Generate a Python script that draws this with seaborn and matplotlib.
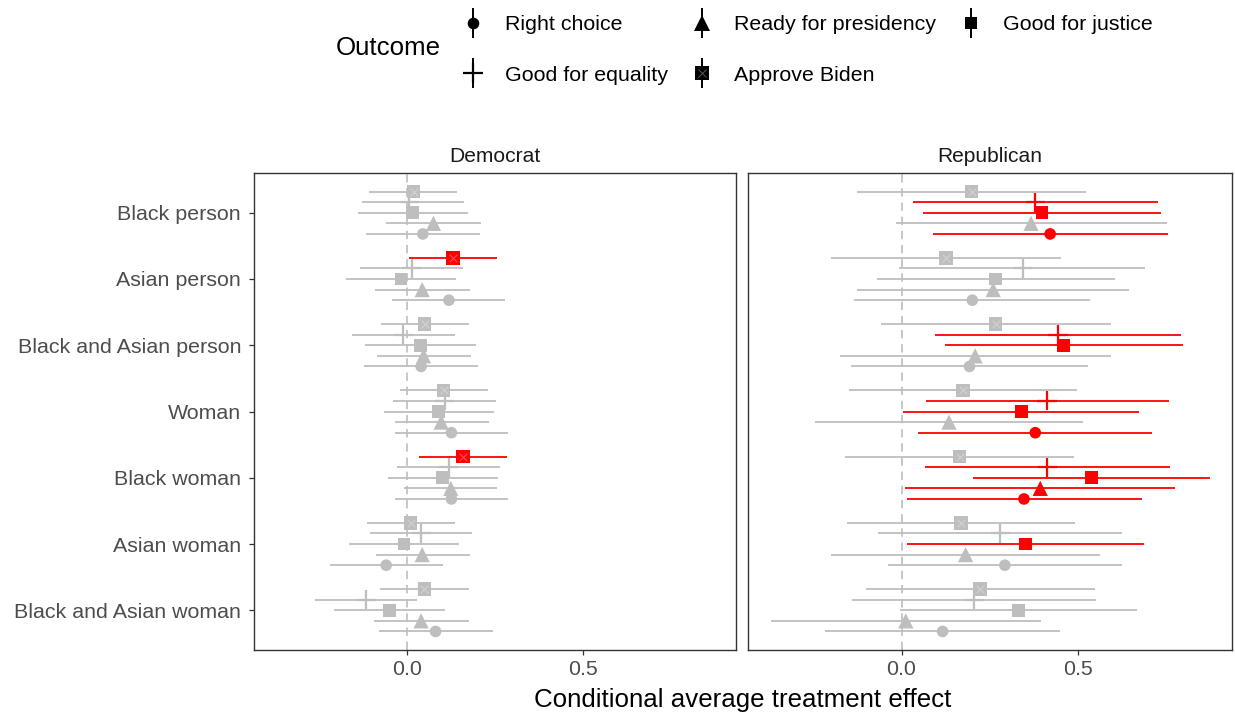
import numpy as np
import pandas as pd
import matplotlib
matplotlib.use("Agg")
import matplotlib.pyplot as plt
import seaborn as sns
from matplotlib.lines import Line2D

# ---------------- data ----------------
categories = ["Black person", "Asian person", "Black and Asian person", "Woman",
              "Black woman", "Asian woman", "Black and Asian woman"]
outcomes = ["Right choice", "Ready for presidency", "Good for justice",
            "Good for equality", "Approve Biden"]
parties = ["Democrat", "Republican"]

# rows = categories, columns = outcomes (order as in `outcomes`)
dem_est = [[0.046, 0.076, 0.017, 0.008, 0.020],
           [0.120, 0.044, -0.016, 0.015, 0.131],
           [0.041, 0.048, 0.040, -0.010, 0.051],
           [0.127, 0.098, 0.091, 0.108, 0.105],
           [0.127, 0.125, 0.102, 0.119, 0.160],
           [-0.058, 0.044, -0.008, 0.042, 0.011],
           [0.082, 0.041, -0.048, -0.115, 0.050]]
dem_lo = [[-0.114, -0.058, -0.139, -0.128, -0.106],
          [-0.041, -0.089, -0.173, -0.131, 0.007],
          [-0.120, -0.084, -0.117, -0.156, -0.074],
          [-0.033, -0.033, -0.063, -0.039, -0.020],
          [-0.033, -0.007, -0.054, -0.026, 0.035],
          [-0.218, -0.088, -0.163, -0.105, -0.113],
          [-0.079, -0.092, -0.205, -0.261, -0.075]]
dem_hi = [[0.208, 0.210, 0.174, 0.163, 0.144],
          [0.280, 0.180, 0.141, 0.159, 0.257],
          [0.203, 0.182, 0.197, 0.137, 0.177],
          [0.288, 0.234, 0.248, 0.253, 0.231],
          [0.288, 0.257, 0.260, 0.265, 0.285],
          [0.104, 0.180, 0.149, 0.186, 0.137],
          [0.244, 0.177, 0.108, 0.030, 0.177]]

rep_est = [[0.420, 0.366, 0.397, 0.378, 0.198],
           [0.200, 0.259, 0.265, 0.342, 0.125],
           [0.192, 0.208, 0.458, 0.442, 0.266],
           [0.378, 0.134, 0.339, 0.411, 0.174],
           [0.346, 0.392, 0.537, 0.412, 0.164],
           [0.292, 0.181, 0.350, 0.279, 0.168],
           [0.116, 0.012, 0.330, 0.205, 0.222]]
rep_lo = [[0.089, -0.016, 0.061, 0.033, -0.126],
          [-0.134, -0.126, -0.069, -0.006, -0.199],
          [-0.142, -0.175, 0.122, 0.094, -0.058],
          [0.047, -0.245, 0.005, 0.068, -0.148],
          [0.014, 0.009, 0.201, 0.065, -0.159],
          [-0.039, -0.199, 0.016, -0.066, -0.154],
          [-0.216, -0.369, -0.005, -0.141, -0.100]]
rep_hi = [[0.754, 0.751, 0.734, 0.725, 0.521],
          [0.534, 0.642, 0.603, 0.689, 0.450],
          [0.526, 0.592, 0.796, 0.789, 0.592],
          [0.708, 0.514, 0.672, 0.757, 0.497],
          [0.680, 0.774, 0.873, 0.758, 0.488],
          [0.623, 0.562, 0.684, 0.623, 0.490],
          [0.448, 0.395, 0.666, 0.551, 0.547]]

x_ticks = [0.0, 0.5]
x_ticklabels = ["0.0", "0.5"]

# ---------------- tidy table ----------------
rows = []
for party, est, lo, hi in [("Democrat", dem_est, dem_lo, dem_hi),
                           ("Republican", rep_est, rep_lo, rep_hi)]:
    for i, cat in enumerate(categories):
        for k, out in enumerate(outcomes):
            rows.append(dict(party=party, category=cat, outcome=out, cat_idx=i,
                             out_idx=k, est=est[i][k], lo=lo[i][k], hi=hi[i][k]))
df = pd.DataFrame(rows)
df["sig"] = (df["lo"] > 0) | (df["hi"] < 0)
dodge = 0.16
df["ypos"] = df["cat_idx"] + (2 - df["out_idx"]) * dodge

# ---------------- style ----------------
sns.set_theme(style="white")
plt.rcParams["font.family"] = ["Liberation Sans", "DejaVu Sans"]

RED = "#FF0000"
GREY = "#BEBEBE"
pal = {True: RED, False: GREY}
W, H = 1235, 714

fig = plt.figure(figsize=(W / 100, H / 100), dpi=100)
ax_d = fig.add_axes([253.6 / W, 1 - 650 / H, (736 - 253.6) / W, 477 / H])
ax_r = fig.add_axes([748 / W, 1 - 650 / H, (1232 - 748) / W, 477 / H])
axes = [ax_d, ax_r]

mk = {
    "Right choice": dict(marker="o", s=70),
    "Ready for presidency": dict(marker="^", s=120),
    "Good for justice": dict(marker="s", s=82),
    "Good for equality": dict(marker="+", s=190),
    "Approve Biden": dict(marker="s", s=95),
}

for ax, party in zip(axes, parties):
    d = df[df["party"] == party]
    ax.axvline(0, color=GREY, lw=1.2, ls=(0, (5, 3.5)), zorder=1)
    ax.hlines(d["ypos"], d["lo"], d["hi"], colors=[pal[s] for s in d["sig"]],
              lw=1.3, zorder=2)
    for out in outcomes:
        sub = d[d["outcome"] == out]
        spec = mk[out]
        if spec["marker"] == "+":
            sns.scatterplot(data=sub, x="est", y="ypos", hue="sig", palette=pal,
                            marker="+", s=spec["s"], linewidth=1.6, legend=False,
                            ax=ax, zorder=3)
        else:
            sns.scatterplot(data=sub, x="est", y="ypos", hue="sig", palette=pal,
                            marker=spec["marker"], s=spec["s"], linewidth=0,
                            edgecolor="none", legend=False, ax=ax, zorder=3)
        if out == "Approve Biden":
            ax.scatter(sub["est"], sub["ypos"], marker="x", s=30, color="white",
                       linewidths=0.7, alpha=0.35, zorder=4)

    ax.set_xlim(-0.434, 0.934)
    ax.set_ylim(len(categories) - 0.4, -0.6)
    ax.set_xticks(x_ticks)
    ax.set_xticklabels(x_ticklabels)
    ax.set_yticks(range(len(categories)))
    ax.set_xlabel("")
    ax.set_ylabel("")
    ax.grid(False)
    for sp in ax.spines.values():
        sp.set_visible(True)
        sp.set_color("#333333")
        sp.set_linewidth(1.0)
    ax.tick_params(axis="x", length=3.5, width=0.9, color="#333333",
                   labelcolor="#4D4D4D", labelsize=15.4, pad=4, bottom=True)
    ax.set_title(party, fontsize=15.1, color="#1A1A1A", pad=7.6)

ax_d.set_yticklabels(categories)
ax_d.tick_params(axis="y", length=3.5, width=0.9, color="#333333",
                 labelcolor="#4D4D4D", labelsize=15.4, pad=5.5, left=True)
ax_r.set_yticklabels([])
ax_r.tick_params(axis="y", length=0, left=False)

fig.text(742.8 / W, 1 - 700 / H, "Conditional average treatment effect",
         ha="center", va="center", fontsize=18.6, color="black")

# ---------------- legend ----------------
def key(out):
    spec = mk[out]
    vline = Line2D([], [], ls="none", marker="|", markersize=22,
                   markeredgewidth=1.4, color="black")
    ms = np.sqrt(spec["s"])
    if spec["marker"] == "+":
        m = Line2D([], [], ls="none", marker="+", markersize=ms,
                   markeredgewidth=1.6, color="black")
        return (vline, m)
    m = Line2D([], [], ls="none", marker=spec["marker"], markersize=ms,
               markeredgewidth=0, color="black")
    if out == "Approve Biden":
        x = Line2D([], [], ls="none", marker="x", markersize=np.sqrt(30),
                   markeredgewidth=0.7, color="white", alpha=0.35)
        return (vline, m, x)
    return (vline, m)

leg_order = ["Right choice", "Good for equality", "Ready for presidency",
             "Approve Biden", "Good for justice"]
fig.legend([key(o) for o in leg_order], leg_order, loc="upper left",
           bbox_to_anchor=(462.3 / W, 1 - 15.5 / H), ncol=3, frameon=False,
           fontsize=15.4, handlelength=1.0, handletextpad=1.0,
           columnspacing=1.1, labelspacing=1.45, borderpad=0, borderaxespad=0,
           labelcolor="black")
fig.text(336 / W, 1 - 48 / H, "Outcome", ha="left", va="center",
         fontsize=18.6, color="black")

fig.savefig("out.png", dpi=100)
